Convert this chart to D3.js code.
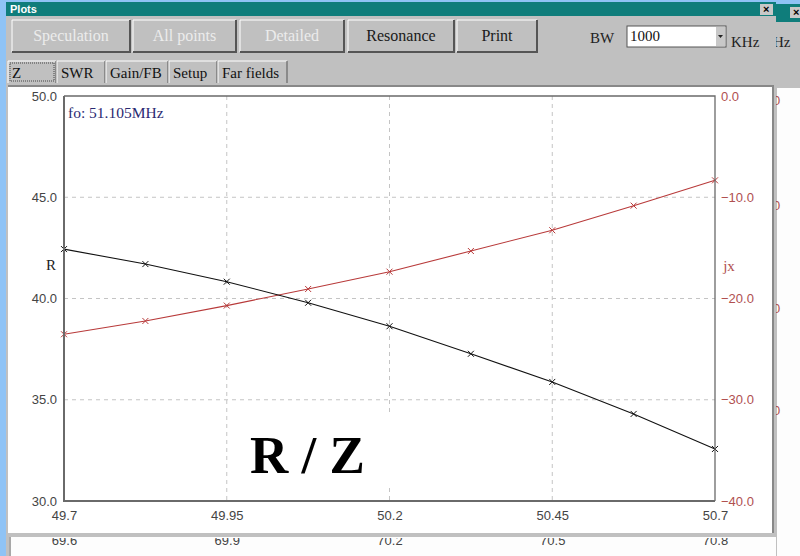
<!DOCTYPE html>
<html>
<head>
<meta charset="utf-8">
<script src="https://cdn.jsdelivr.net/npm/d3@7"></script>
<style>
  body { margin: 0; background: #8fc3f5; }
  svg { display: block; }
</style>
</head>
<body>
<div class="graph-container"></div>
<script>
// sweep values (9 points, 125 kHz apart)
var freqMHz = [49.7, 49.825, 49.95, 50.075, 50.2, 50.325, 50.45, 50.575, 50.7];
var rValues = [42.44, 41.70, 40.83, 39.79, 38.63, 37.27, 35.88, 34.30, 32.57];
var jxValues = [-23.53, -22.22, -20.70, -19.06, -17.35, -15.31, -13.26, -10.83, -8.33];

var xTicks = [49.7, 49.95, 50.2, 50.45, 50.7];
var lowerTicks = ['69.6', '69.9', '70.2', '70.5', '70.8'];
var rTicks = [30, 35, 40, 45, 50];
var jxTicks = [-40, -30, -20, -10, 0];

var buttons = ['Speculation', 'All points', 'Detailed', 'Resonance', 'Print'];
var buttonEnabled = [false, false, false, true, true];
var tabs = ['Z', 'SWR', 'Gain/FB', 'Setup', 'Far fields'];

var svgWidth = 800;
var svgHeight = 556;
var plotLeft = 64, plotRight = 715, plotTop = 96, plotBottom = 501;

var serif = '"Liberation Serif", "DejaVu Serif", serif';
var sans = '"Liberation Sans", Arial, sans-serif';

var svg = d3.select('.graph-container').append('svg')
  .attr('width', svgWidth)
  .attr('height', svgHeight);

// background window behind (right edge)
svg.append('rect').attr('x', 776).attr('y', 4).attr('width', 24).attr('height', 552).attr('fill', '#c0c0c0');
svg.append('rect').attr('x', 776).attr('y', 4).attr('width', 24).attr('height', 18).attr('fill', '#0f7d7b');
svg.append('rect').attr('x', 790).attr('y', 7).attr('width', 12).attr('height', 11).attr('fill', '#c8c8c8');
svg.append('text').attr('x', 793).attr('y', 16).attr('font-family', sans).attr('font-weight', 'bold')
  .attr('font-size', 11).text('×');
svg.append('text').attr('x', 773).attr('y', 47).attr('font-family', serif).attr('font-size', 15)
  .attr('fill', '#222').text('Hz');
svg.append('rect').attr('x', 777).attr('y', 88).attr('width', 23).attr('height', 468).attr('fill', '#fdfdfd');
[100, 205, 308, 410].forEach(function(y) {
  svg.append('text').attr('x', 773).attr('y', y + 5).attr('font-family', sans).attr('font-size', 13)
    .attr('fill', '#b05050').text('0');
});

// front window
svg.append('rect').attr('x', 6).attr('y', 2).attr('width', 770).attr('height', 554).attr('fill', '#c0c0c0');
svg.append('rect').attr('x', 6).attr('y', 2).attr('width', 770).attr('height', 14).attr('fill', '#0f7d7b');
svg.append('text').attr('x', 10).attr('y', 13).attr('font-family', sans).attr('font-weight', 'bold')
  .attr('font-size', 11).attr('fill', '#fff').text('Plots');
svg.append('rect').attr('x', 760).attr('y', 4).attr('width', 13).attr('height', 11).attr('fill', '#c8c8c8');
svg.append('text').attr('x', 763).attr('y', 13).attr('font-family', sans).attr('font-weight', 'bold')
  .attr('font-size', 11).text('×');

// buttons row
var btnX = [12, 133, 240, 348, 457];
var btnW = [118, 103, 104, 106, 80];
buttons.forEach(function(label, i) {
  var g = svg.append('g').attr('transform', 'translate(' + btnX[i] + ',20)');
  g.append('rect').attr('width', btnW[i]).attr('height', 32).attr('fill', '#c0c0c0');
  g.append('path').attr('d', 'M0,32 V0 H' + btnW[i]).attr('stroke', '#fff').attr('fill', 'none');
  g.append('path').attr('d', 'M' + btnW[i] + ',0 V32 H0').attr('stroke', '#555').attr('stroke-width', 2).attr('fill', 'none');
  g.append('text').attr('x', btnW[i] / 2).attr('y', 21).attr('text-anchor', 'middle')
    .attr('font-family', serif).attr('font-size', 16)
    .attr('fill', buttonEnabled[i] ? '#1a1a1a' : '#ececec').text(label);
});

// BW combo
svg.append('text').attr('x', 590).attr('y', 43).attr('font-family', serif).attr('font-size', 15)
  .attr('fill', '#222').text('BW');
svg.append('rect').attr('x', 627).attr('y', 26).attr('width', 99).attr('height', 21)
  .attr('fill', '#fff').attr('stroke', '#555');
svg.append('rect').attr('x', 716).attr('y', 27).attr('width', 9).attr('height', 19).attr('fill', '#c8c8c8');
svg.append('path').attr('d', 'M718,35 h5 l-2.5,3 z').attr('fill', '#222');
svg.append('text').attr('x', 630).attr('y', 41).attr('font-family', serif).attr('font-size', 15)
  .attr('fill', '#111').text('1000');
svg.append('text').attr('x', 731).attr('y', 47).attr('font-family', serif).attr('font-size', 15)
  .attr('fill', '#222').text('KHz');

// tabs
var tabX = [8, 57, 106, 169, 218];
var tabW = [49, 49, 63, 49, 70];
tabs.forEach(function(label, i) {
  var g = svg.append('g').attr('transform', 'translate(' + tabX[i] + ',61)');
  g.append('path').attr('d', 'M0,22 V0 H' + (tabW[i] - 1)).attr('stroke', '#fff').attr('fill', 'none');
  g.append('path').attr('d', 'M' + (tabW[i] - 1) + ',0 V22').attr('stroke', '#555').attr('fill', 'none');
  if (i === 0) {
    g.append('rect').attr('x', 2).attr('y', 2).attr('width', tabW[i] - 5).attr('height', 18)
      .attr('fill', 'none').attr('stroke', '#444').attr('stroke-dasharray', '1,1');
  }
  g.append('text').attr('x', 4).attr('y', 17).attr('font-family', serif).attr('font-size', 15)
    .attr('fill', '#111').text(label);
});

// plot panel
svg.append('rect').attr('x', 8).attr('y', 86).attr('width', 766).attr('height', 448)
  .attr('fill', '#fff');
svg.append('path').attr('d', 'M8,86 H773 V534').attr('stroke', '#888').attr('stroke-width', 2).attr('fill', 'none');
svg.append('rect').attr('x', 7).attr('y', 533).attr('width', 769).attr('height', 4).attr('fill', '#c0c0c0');

// lower (clipped) panel
svg.append('rect').attr('x', 9).attr('y', 537).attr('width', 767).attr('height', 19).attr('fill', '#fdfdfd');
svg.append('line').attr('x1', 10).attr('x2', 10).attr('y1', 537).attr('y2', 556).attr('stroke', '#555');
svg.append('defs').append('clipPath').attr('id', 'lowclip')
  .append('rect').attr('x', 9).attr('y', 538).attr('width', 767).attr('height', 18);

// scales
var xScale = d3.scaleLinear().domain([49.7, 50.7]).range([plotLeft, plotRight]);
var rScale = d3.scaleLinear().domain([30, 50]).range([plotBottom, plotTop]);
var jxScale = d3.scaleLinear().domain([-40, 0]).range([plotBottom, plotTop]);
var lowScale = d3.scaleLinear().domain([69.6, 70.8]).range([plotLeft, plotRight]);

// grid
var grid = svg.append('g').attr('stroke', '#c4c4c4').attr('stroke-dasharray', '4,4');
grid.selectAll('.hg').data(rTicks.slice(1, -1)).enter().append('line')
  .attr('x1', plotLeft).attr('x2', plotRight)
  .attr('y1', function(d) { return rScale(d); }).attr('y2', function(d) { return rScale(d); });
grid.selectAll('.vg').data(xTicks.slice(1, -1)).enter().append('line')
  .attr('y1', plotTop).attr('y2', plotBottom)
  .attr('x1', function(d) { return xScale(d); }).attr('x2', function(d) { return xScale(d); });

// series
function drawSeries(values, scale, color) {
  var line = d3.line()
    .x(function(d, i) { return xScale(freqMHz[i]); })
    .y(function(d) { return scale(d); });
  svg.append('path').datum(values).attr('d', line)
    .attr('fill', 'none').attr('stroke', color).attr('stroke-width', 1.1);
  svg.append('g').selectAll('path').data(values).enter().append('path')
    .attr('d', function(d, i) {
      var x = xScale(freqMHz[i]), y = scale(d);
      return 'M' + (x - 3) + ',' + (y - 3) + 'L' + (x + 3) + ',' + (y + 3) +
        'M' + (x - 3) + ',' + (y + 3) + 'L' + (x + 3) + ',' + (y - 3);
    })
    .attr('stroke', color).attr('stroke-width', 1);
}
drawSeries(jxValues, jxScale, '#b83a3a');
drawSeries(rValues, rScale, '#111');

// frame
svg.append('path').attr('d', 'M' + plotLeft + ',' + plotTop + ' H' + plotRight + ' V' + plotBottom)
  .attr('fill', 'none').attr('stroke', '#6a6a6a').attr('stroke-width', 1.3);
svg.append('path').attr('d', 'M' + plotLeft + ',' + plotTop + ' V' + plotBottom + ' H' + plotRight)
  .attr('fill', 'none').attr('stroke', '#6a6a6a').attr('stroke-width', 2);

// axes
var fmt = d3.format('.1f');
var leftAxis = svg.append('g')
  .attr('transform', 'translate(' + plotLeft + ',0)')
  .call(d3.axisLeft(rScale).tickValues(rTicks).tickFormat(fmt).tickSize(0).tickPadding(7));
leftAxis.select('.domain').remove();
leftAxis.selectAll('text').attr('font-family', sans).attr('font-size', 13).attr('fill', '#444');

var rightAxis = svg.append('g')
  .attr('transform', 'translate(' + plotRight + ',0)')
  .call(d3.axisRight(jxScale).tickValues(jxTicks).tickFormat(fmt).tickSize(0).tickPadding(6));
rightAxis.select('.domain').remove();
rightAxis.selectAll('text').attr('font-family', sans).attr('font-size', 13).attr('fill', '#b05050');

var bottomAxis = svg.append('g')
  .attr('transform', 'translate(0,' + plotBottom + ')')
  .call(d3.axisBottom(xScale).tickValues(xTicks).tickFormat(function(d) { return String(d); })
    .tickSize(0).tickPadding(10));
bottomAxis.select('.domain').remove();
bottomAxis.selectAll('text').attr('font-family', sans).attr('font-size', 13).attr('fill', '#444');

// second scale row, only the lower half of its labels shows
var lowAxis = svg.append('g').attr('clip-path', 'url(#lowclip)')
  .append('g')
  .attr('transform', 'translate(0,533)')
  .call(d3.axisBottom(lowScale).tickValues(lowerTicks.map(Number))
    .tickFormat(function(d, i) { return lowerTicks[i]; }).tickSize(0).tickPadding(3));
lowAxis.select('.domain').remove();
lowAxis.selectAll('text').attr('font-family', sans).attr('font-size', 13).attr('fill', '#444');

// axis names
svg.append('text').attr('x', 51).attr('y', 270).attr('text-anchor', 'middle')
  .attr('font-family', serif).attr('font-size', 15).attr('fill', '#222').text('R');
svg.append('text').attr('x', 729).attr('y', 271).attr('text-anchor', 'middle')
  .attr('font-family', serif).attr('font-size', 15).attr('fill', '#b05050').text('jx');

// fo label
svg.append('text').attr('x', 68).attr('y', 118)
  .attr('font-family', serif).attr('font-size', 15.5).attr('fill', '#2a2a72').text('fo: 51.105MHz');

// big annotation with white patch
svg.append('rect').attr('x', 240).attr('y', 415).attr('width', 150).attr('height', 70).attr('fill', '#fff');
svg.append('text').attr('x', 250).attr('y', 473)
  .attr('font-family', serif).attr('font-weight', 'bold').attr('font-size', 53)
  .attr('fill', '#000').text('R / Z');
</script>
</body>
</html>
